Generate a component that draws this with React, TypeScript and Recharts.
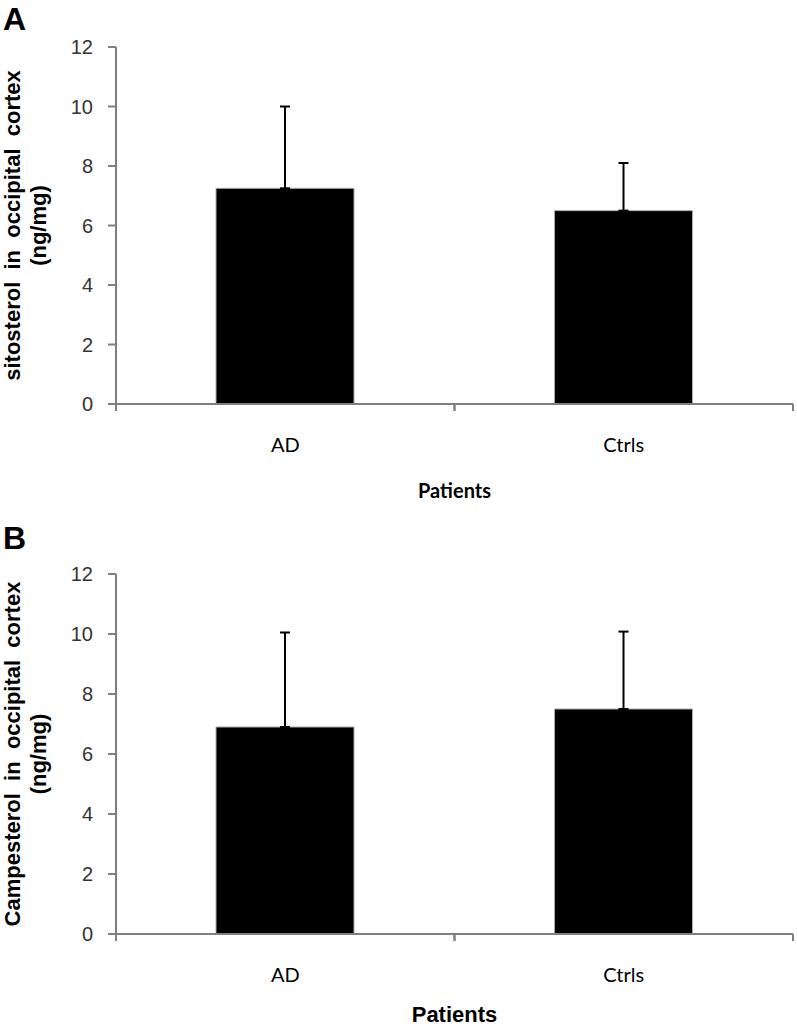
import React from 'react';
import { BarChart, Bar, XAxis, YAxis, ErrorBar, Label } from 'recharts';

const groups = ['AD', 'Ctrls'];
const sitosterolMean = [7.25, 6.5];
const sitosterolErr = [2.75, 1.6];
const campesterolMean = [6.9, 7.5];
const campesterolErr = [3.15, 2.58];
const yTicks = [0, 2, 4, 6, 8, 10, 12];

const AXIS_GRAY = '#7f7f7f';

const buildRows = (mean: number[], err: number[]) =>
  groups.map((g, i) => ({ group: g, value: mean[i], err: [0, err[i]] }));

const yTitle = (lines: string[]) => (props: any) => {
  const { viewBox } = props;
  const cy = viewBox.y + viewBox.height / 2;
  const xs = [20, 46];
  return (
    <g>
      {lines.map((l, i) => (
        <text
          key={i}
          x={viewBox.x + xs[i]}
          y={cy}
          transform={`rotate(-90, ${viewBox.x + xs[i]}, ${cy})`}
          textAnchor="middle"
          fontFamily="'Liberation Sans', Arial, sans-serif"
          fontWeight="bold"
          fontSize={22}
          fill="#000"
          style={{ whiteSpace: 'pre' }}
        >
          {l}
        </text>
      ))}
    </g>
  );
};

const xTitle = (text: string, dy: number, font: string, size: number) => (props: any) => {
  const { viewBox } = props;
  return (
    <text
      x={viewBox.x + viewBox.width / 2}
      y={viewBox.y + dy}
      textAnchor="middle"
      fontFamily={font}
      fontWeight="bold"
      fontSize={size}
      fill="#000"
    >
      {text}
    </text>
  );
};

// category label plus the tick marks at the band edges, as in the original
const GroupTick = (props: any) => {
  const { x, y, payload } = props;
  const half = payload.offset || 0;
  return (
    <g>
      <line x1={x - half} y1={y} x2={x - half} y2={y + 7} stroke={AXIS_GRAY} strokeWidth={2} />
      <line x1={x + half} y1={y} x2={x + half} y2={y + 7} stroke={AXIS_GRAY} strokeWidth={2} />
      <text
        x={x}
        y={y + 48}
        textAnchor="middle"
        fontFamily="Lato, sans-serif"
        fontSize={20}
        fill="#000"
      >
        {payload.value}
      </text>
    </g>
  );
};

interface PanelProps {
  rows: Array<{ group: string; value: number; err: number[] }>;
  titleLines: string[];
  height: number;
  top: number;
  xAxisHeight: number;
  patientsDy: number;
  patientsFont: string;
  patientsSize: number;
}

const Panel: React.FC<PanelProps> = ({
  rows,
  titleLines,
  height,
  top,
  xAxisHeight,
  patientsDy,
  patientsFont,
  patientsSize,
}) => (
  <BarChart
    width={797}
    height={height}
    data={rows}
    margin={{ top, right: 4, left: 0, bottom: 0 }}
    barCategoryGap={0}
  >
    <XAxis
      dataKey="group"
      height={xAxisHeight}
      tickLine={false}
      tickSize={0}
      tickMargin={0}
      interval={0}
      axisLine={{ stroke: AXIS_GRAY, strokeWidth: 2 }}
      tick={<GroupTick />}
    >
      <Label content={xTitle('Patients', patientsDy, patientsFont, patientsSize)} />
    </XAxis>
    <YAxis
      width={116}
      domain={[0, 12]}
      ticks={yTicks}
      interval={0}
      tickSize={8}
      tickMargin={15}
      axisLine={{ stroke: AXIS_GRAY, strokeWidth: 2 }}
      tickLine={{ stroke: AXIS_GRAY, strokeWidth: 2 }}
      tick={{ fill: '#333', fontSize: 20, fontFamily: "'Liberation Sans', Arial, sans-serif" }}
    >
      <Label content={yTitle(titleLines)} />
    </YAxis>
    <Bar
      dataKey="value"
      fill="#000"
      stroke="#aaa"
      strokeWidth={1}
      barSize={138}
      isAnimationActive={false}
    >
      <ErrorBar dataKey="err" width={5} stroke="#000" strokeWidth={2} direction="y" />
    </Bar>
  </BarChart>
);

const letterStyle: React.CSSProperties = {
  position: 'absolute',
  left: 3,
  fontFamily: "'Liberation Sans', Arial, sans-serif",
  fontWeight: 'bold',
  fontSize: 32,
  lineHeight: 1,
};

export default function App() {
  return (
    <div style={{ position: 'absolute', left: 0, top: 0, width: 797, height: 1029, background: '#fff' }}>
      <div style={{ position: 'absolute', left: 0, top: 0 }}>
        <Panel
          rows={buildRows(sitosterolMean, sitosterolErr)}
          titleLines={['sitosterol  in  occipital  cortex', '(ng/mg)']}
          height={520}
          top={47}
          xAxisHeight={116}
          patientsDy={94}
          patientsFont="Lato, sans-serif"
          patientsSize={20}
        />
      </div>
      <div style={{ position: 'absolute', left: 0, top: 520 }}>
        <Panel
          rows={buildRows(campesterolMean, campesterolErr)}
          titleLines={['Campesterol  in  occipital  cortex', '(ng/mg)']}
          height={509}
          top={54}
          xAxisHeight={95}
          patientsDy={88}
          patientsFont="'Liberation Sans', Arial, sans-serif"
          patientsSize={22}
        />
      </div>
      <div style={{ ...letterStyle, top: 3 }}>A</div>
      <div style={{ ...letterStyle, top: 522 }}>B</div>
    </div>
  );
}
